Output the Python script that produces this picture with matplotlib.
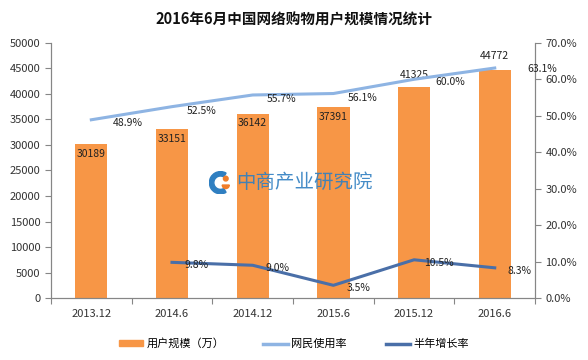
import matplotlib
matplotlib.use("Agg")
import numpy as np
from matplotlib import pyplot as plt
from matplotlib.ticker import FuncFormatter
from matplotlib.patches import Patch, Wedge, Circle
from matplotlib.lines import Line2D

plt.rcParams['font.family'] = ['Noto Sans CJK SC', 'DejaVu Sans']

# data
periods = ["2013.12", "2014.6", "2014.12", "2015.6", "2015.12", "2016.6"]
users = [30189, 33151, 36142, 37391, 41325, 44772]
usage_rate = [48.9, 52.5, 55.7, 56.1, 60.0, 63.1]
growth_years = ["2014.6", "2014.12", "2015.6", "2015.12", "2016.6"]
growth_rate = [9.8, 9.0, 3.5, 10.5, 8.3]

bar_col = "#F79646"
light_col = "#8EB4E3"
dark_col = "#4A6FA8"
grey = "#868686"

fig = plt.figure(figsize=(5.88, 3.6), dpi=100)
ax = fig.add_axes([0.0867, 0.172, 0.8233, 0.709])
ax2 = ax.twinx()

x = np.arange(len(periods))
ax.bar(x, users, width=0.4, color=bar_col, zorder=1)
ax.set_xlim(-0.5, len(periods) - 0.5)
ax.set_ylim(0, 50000)
ax.set_yticks(np.arange(0, 50001, 5000))

# bar labels: some sit inside the bar top, last two above
bar_dy = [-7, -7, -7, -7, 9, 10]
for i, v in enumerate(users):
    ax.annotate(str(v), (x[i], v), xytext=(0, bar_dy[i]), textcoords="offset points",
                ha="center", va="center", fontsize=7.5, color="#222222")

gx = np.array([periods.index(p) for p in growth_years])
ax2.plot(x, usage_rate, color=light_col, lw=2.2, zorder=3)
ax2.plot(gx, growth_rate, color=dark_col, lw=2.2, zorder=3)
ax2.set_ylim(0, 70)
ax2.set_yticks(np.arange(0, 71, 10))
ax2.yaxis.set_major_formatter(FuncFormatter(lambda v, p: "%.1f%%" % v))

rate_dx = [26, 21, 21, 21, 26, 34]
rate_dy = [-2, -3, -3, -3, -2, -1]
for i, v in enumerate(usage_rate):
    ax2.annotate("%.1f%%" % v, (x[i], v), xytext=(rate_dx[i], rate_dy[i]),
                 textcoords="offset points", ha="center", va="center", fontsize=7.5, color="#222222")
for i, v in enumerate(growth_rate):
    ax2.annotate("%.1f%%" % v, (gx[i], v), xytext=(18, -2), textcoords="offset points",
                 ha="center", va="center", fontsize=7.5, color="#222222")

# axes styling
for a in (ax, ax2):
    a.spines["top"].set_visible(False)
    for s in ("left", "right", "bottom"):
        a.spines[s].set_color(grey)
        a.spines[s].set_linewidth(0.8)
    a.tick_params(axis="y", colors=grey, labelcolor="#333333", labelsize=8, length=4, width=0.8)

ax.set_xticks(x)
ax.set_xticklabels(periods)
ax.tick_params(axis="x", length=0, labelsize=8, labelcolor="#333333", pad=8)
ax.set_xticks(np.arange(-0.5, len(periods), 1), minor=True)
ax.tick_params(axis="x", which="minor", length=4, color=grey, width=0.8)

# watermark logo + text
wm = fig.add_axes([0.355, 0.46, 0.04, 0.065])
wm.set_xlim(-1, 1)
wm.set_ylim(-1, 1)
wm.set_aspect("equal")
wm.axis("off")
wm.add_patch(Wedge((0, 0), 0.95, 60, 300, width=0.38, color="#2F7FC1"))
wm.add_patch(Circle((0.45, 0.35), 0.2, color="#F07D2A"))
wm.add_patch(Wedge((0.45, -0.2), 0.3, 180, 360, width=0.3, color="#F07D2A"))
fig.text(0.402, 0.494, "中商产业研究院", fontsize=14, color="#2F7FC1", alpha=0.9,
         ha="left", va="center")

fig.suptitle("2016年6月中国网络购物用户规模情况统计", y=0.968, fontsize=10.5, weight="bold", color="#111111")

handles = [Patch(color=bar_col), Line2D([], [], color=light_col, lw=2.5), Line2D([], [], color=dark_col, lw=2.5)]
fig.legend(handles, ["用户规模（万）", "网民使用率", "半年增长率"], loc="center", bbox_to_anchor=(0.5, 0.045),
           ncol=3, frameon=False, fontsize=8, handlelength=2.2, handleheight=0.5, columnspacing=3.5,
           handletextpad=0.3)

fig.savefig("out.png", dpi=100)
